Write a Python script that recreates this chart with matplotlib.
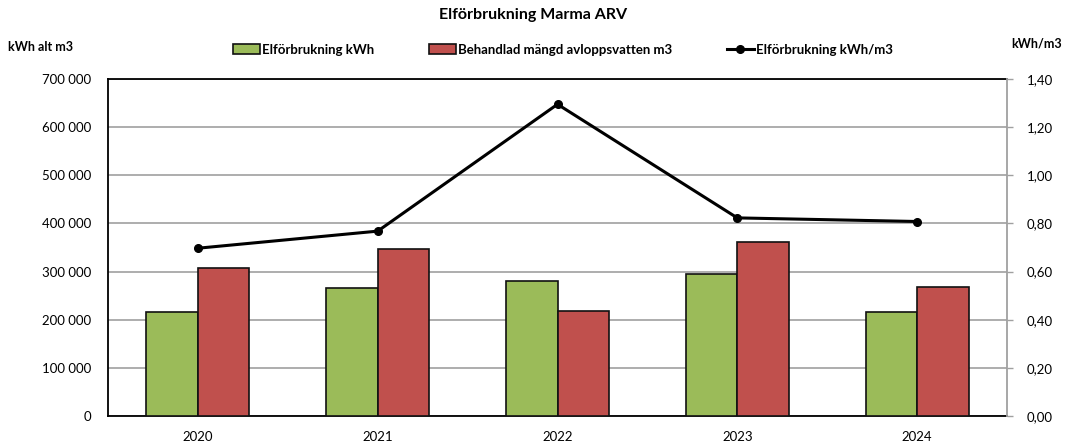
import matplotlib
matplotlib.use("Agg")
import matplotlib.pyplot as plt
import numpy as np
from matplotlib.patches import Patch
from matplotlib.lines import Line2D
from matplotlib.ticker import FuncFormatter

plt.rcParams['font.family'] = ['Lato', 'DejaVu Sans']

years = ["2020", "2021", "2022", "2023", "2024"]
el_kwh = [215000, 266700, 280600, 294500, 216700]
avlopp_m3 = [308300, 347900, 217800, 360400, 268800]
kwh_per_m3 = [0.697, 0.768, 1.295, 0.823, 0.808]

green = "#9bbb59"
red = "#c0504d"

fig = plt.figure(figsize=(10.66, 4.43), dpi=100)
ax = fig.add_axes([108/1066, 1-416/443, (1007-108)/1066, (416-79)/443])

x = np.arange(len(years))
w = 0.286
ax.bar(x - w/2, el_kwh, width=w, color=green, edgecolor="#111111", linewidth=1.2, zorder=3)
ax.bar(x + w/2, avlopp_m3, width=w, color=red, edgecolor="#111111", linewidth=1.2, zorder=3)
ax.set_xlim(-0.5, len(years) - 0.5)
ax.set_ylim(0, 700000)
ax.set_yticks(np.arange(0, 700001, 100000))
ax.yaxis.set_major_formatter(FuncFormatter(lambda v, p: f"{int(v):,}".replace(",", " ")))
ax.grid(axis="y", color="#a0a0a0", linewidth=1.2, zorder=0)
ax.set_xticks(x)
ax.set_xticklabels(years)
ax.tick_params(axis="x", length=0, pad=11, labelsize=9.5)
ax.tick_params(axis="y", length=0, pad=12, labelsize=9.5)
for s in ["left", "bottom", "top"]:
    ax.spines[s].set_color("black")
    ax.spines[s].set_linewidth(1.3)
ax.spines["right"].set_visible(False)

ax2 = ax.twinx()
ax2.plot(x, kwh_per_m3, color="black", linewidth=2.2, marker="o", markersize=5.5, zorder=5)
ax2.set_ylim(0, 1.4)
ax2.set_yticks(np.arange(0, 1.401, 0.2))
ax2.yaxis.set_major_formatter(FuncFormatter(lambda v, p: f"{v:.2f}".replace(".", ",")))
ax2.tick_params(axis="y", length=4, width=1, color="#a0a0a0", pad=10, labelsize=9.5)
for s in ["left", "bottom", "top"]:
    ax2.spines[s].set_visible(False)
ax2.spines["right"].set_color("#a0a0a0")
ax2.spines["right"].set_linewidth(1.3)

fig.text(0.5, 1-15/443, "Elförbrukning Marma ARV", ha="center", va="center",
         fontsize=11.5, fontweight="bold")
fig.text(8/1066, 1-47/443, "kWh alt m3", ha="left", va="center", fontsize=9, fontweight="bold")
fig.text(1062/1066, 1-44/443, "kWh/m3", ha="right", va="center", fontsize=9, fontweight="bold")

handles = [Patch(facecolor=green, edgecolor="#111111", linewidth=1.2),
           Patch(facecolor=red, edgecolor="#111111", linewidth=1.2),
           Line2D([0], [0], color="black", linewidth=2.2, marker="o", markersize=5.5)]
labels = ["Elförbrukning kWh", "Behandlad mängd avloppsvatten m3", "Elförbrukning kWh/m3"]
leg = fig.legend(handles, labels, loc="center", bbox_to_anchor=(563/1066, 1-50/443), ncol=3,
                 frameon=False, prop={"weight": "bold", "size": 9.5}, handlelength=2.0,
                 handleheight=0.8, handletextpad=0.15, columnspacing=4.2)

fig.savefig("out.png", dpi=100)
